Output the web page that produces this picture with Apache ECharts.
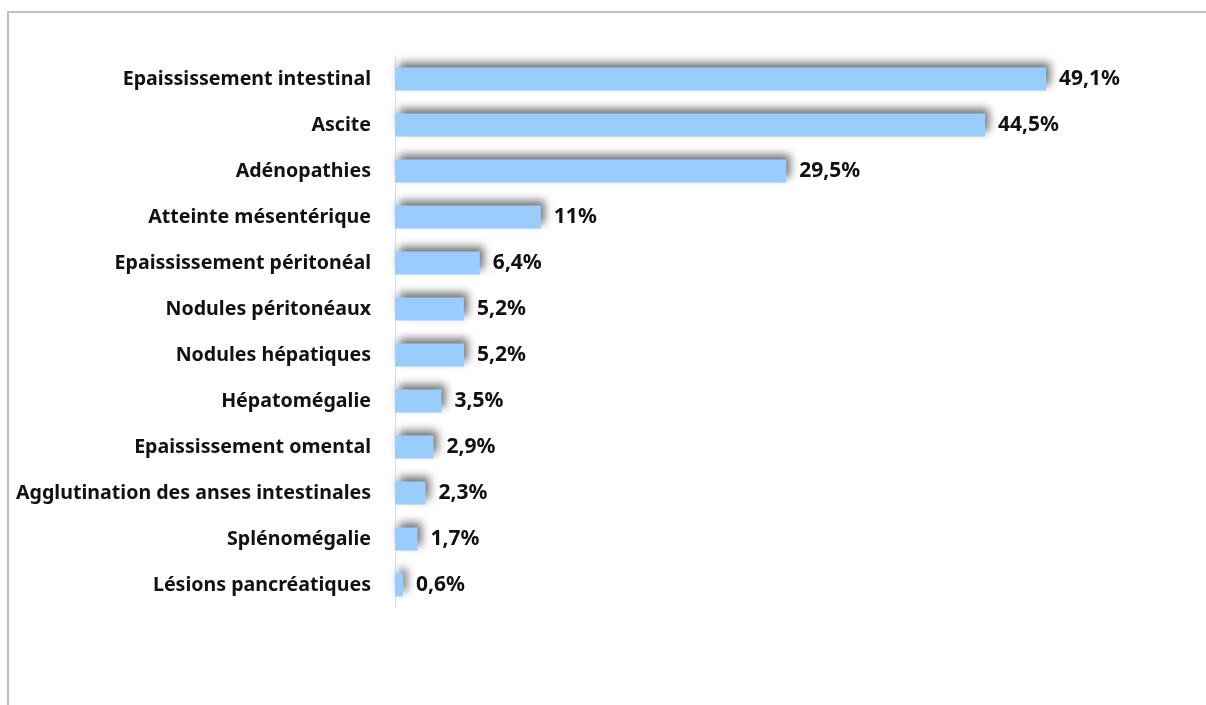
<!DOCTYPE html>
<html>
<head>
<meta charset="utf-8">
<script src="https://cdn.jsdelivr.net/npm/echarts@6/dist/echarts.min.js"></script>
<style>
  html, body { margin: 0; padding: 0; background: #ffffff; }
  #chart { width: 1206px; height: 705px; }
</style>
</head>
<body>
<div id="chart"></div>
<script>
// Imaging findings, share of patients (%)
const categories = [
  'Epaississement intestinal',
  'Ascite',
  'Adénopathies',
  'Atteinte mésentérique',
  'Epaississement péritonéal',
  'Nodules péritonéaux',
  'Nodules hépatiques',
  'Hépatomégalie',
  'Epaississement omental',
  'Agglutination des anses intestinales',
  'Splénomégalie',
  'Lésions pancréatiques'
];
const percentages = [49.1, 44.5, 29.5, 11, 6.4, 5.2, 5.2, 3.5, 2.9, 2.3, 1.7, 0.6];

const chart = echarts.init(document.getElementById('chart'));
const font = '"Noto Sans", "DejaVu Sans", sans-serif';

chart.setOption({
  animation: false,
  graphic: [{
    type: 'rect',
    shape: { x: 8, y: 12, width: 1220, height: 720 },
    style: { fill: 'none', stroke: '#bfbfbf', lineWidth: 2 },
    z: -1
  }],
  grid: { left: 395, top: 56, width: 663, height: 552 },
  xAxis: {
    type: 'value',
    min: 0,
    max: 50,
    show: false
  },
  yAxis: {
    type: 'category',
    data: categories,
    inverse: true,
    axisLine: { show: true, lineStyle: { color: '#d9e0ea', width: 1 } },
    axisTick: { show: false },
    axisLabel: {
      margin: 24,
      color: '#111111',
      fontFamily: font,
      fontWeight: 'bold',
      fontSize: 19.6,
      padding: [4, 0, 0, 0]
    }
  },
  series: [{
    type: 'bar',
    data: percentages,
    barCategoryGap: '50%',
    itemStyle: {
      color: '#99ccff',
      shadowColor: 'rgba(0,0,0,0.55)',
      shadowBlur: 9,
      shadowOffsetX: 4,
      shadowOffsetY: -5
    },
    label: {
      show: true,
      position: 'right',
      distance: 13,
      color: '#111111',
      fontFamily: font,
      fontWeight: 'bold',
      fontSize: 21,
      padding: [5, 0, 0, 0],
      formatter: p => String(p.value).replace('.', ',') + '%'
    }
  }]
});
</script>
</body>
</html>
